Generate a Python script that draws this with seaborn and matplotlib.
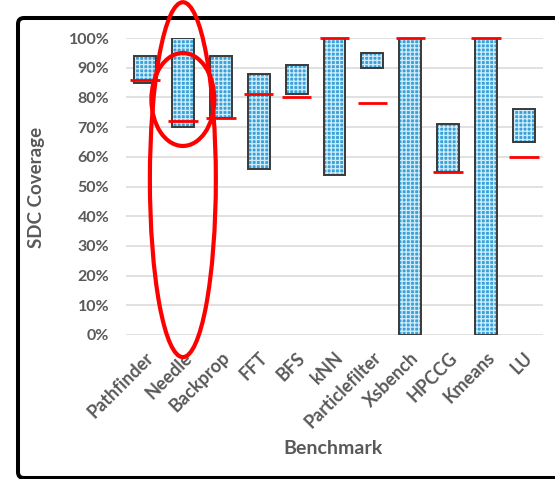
import matplotlib
matplotlib.use("Agg")
import matplotlib.pyplot as plt
from matplotlib.patches import Ellipse, FancyBboxPatch
from matplotlib.ticker import MultipleLocator, PercentFormatter
from matplotlib.transforms import IdentityTransform
import numpy as np
import pandas as pd
import seaborn as sns

# SDC coverage range per benchmark (percent) and the marked reference level
benchmarks = ["Pathfinder", "Needle", "Backprop", "FFT", "BFS", "kNN",
              "Particlefilter", "Xsbench", "HPCCG", "Kmeans", "LU"]
coverage_low = [85, 70, 73, 56, 81, 54, 90, 0, 55, 0, 65]
coverage_high = [94, 100, 94, 88, 91, 100, 95, 100, 71, 100, 76]
coverage_marker = [86, 72, 73, 81, 80, 100, 78, 100, 55, 100, 60]
highlighted = "Needle"

sns.set_theme(style="white")
plt.rcParams["font.family"] = ["Lato", "DejaVu Sans"]
plt.rcParams["hatch.linewidth"] = 0.95

df = pd.DataFrame({"Benchmark": benchmarks, "low": coverage_low,
                   "high": coverage_high, "marker": coverage_marker})
df["span"] = df["high"] - df["low"]

W, H = 555, 479
fig = plt.figure(figsize=(W / 100, H / 100), dpi=100)
ax = fig.add_axes([126 / W, 1 - 335 / H, (543 - 126) / W, (335 - 38) / H])
ax.set_facecolor("none")

bar_w = 0.58
fill_col = "#1fa9f0"
grid_col = "#cdebfb"
# floating bars: gridded blue fill, then a dark outline
sns.barplot(data=df, x="Benchmark", y="span", bottom=df["low"].values,
            color=fill_col, edgecolor=grid_col, linewidth=0, hatch="++++",
            width=bar_w, errorbar=None, ax=ax, zorder=2)
for bar in ax.containers[0]:
    bar.set_edgecolor(grid_col)   # also sets the hatch colour
    bar.set_linewidth(0)
sns.barplot(data=df, x="Benchmark", y="span", bottom=df["low"].values,
            fill=False, color="#3a3a3a", linewidth=1.4,
            width=bar_w, errorbar=None, ax=ax, zorder=3)

# red reference levels
xpos = np.arange(len(benchmarks))
ax.hlines(df["marker"], xpos - 0.39, xpos + 0.39, colors="#ff0000",
          linewidth=2.0, zorder=4, clip_on=False)

# highlight rings around one benchmark
hx = benchmarks.index(highlighted)
ax.add_patch(Ellipse((hx, 52.3), 1.74, 119.5, fill=False, edgecolor="#ff0000",
                     linewidth=3, clip_on=False, zorder=6))
ax.add_patch(Ellipse((hx, 79.3), 1.66, 31.3, fill=False, edgecolor="#ff0000",
                     linewidth=3, clip_on=False, zorder=6))

ax.set_xlim(-0.5, len(benchmarks) - 0.5)
ax.set_ylim(0, 100)
ax.yaxis.set_major_locator(MultipleLocator(10))
ax.yaxis.set_major_formatter(PercentFormatter(100, decimals=0))
ax.grid(axis="y", color="#d9d9d9", linewidth=1.1)
ax.grid(axis="x", visible=False)
ax.set_axisbelow(True)
for s in ax.spines.values():
    s.set_visible(False)

grey = "#595959"
ax.tick_params(axis="both", length=0, labelcolor=grey)
ax.tick_params(axis="y", pad=12, labelsize=11.5)
ax.tick_params(axis="x", pad=10, labelsize=13)
plt.setp(ax.get_xticklabels(), rotation=45, ha="right",
         rotation_mode="anchor", fontweight="bold")
plt.setp(ax.get_yticklabels(), fontweight="bold")

ax.set_xlabel("Benchmark", fontsize=14, fontweight="bold", color=grey)
ax.set_ylabel("SDC Coverage", fontsize=13.5, fontweight="bold", color=grey)
ax.xaxis.set_label_coords(0.496, -0.355)
ax.yaxis.set_label_coords(-0.194, 0.498)

# black rounded frame around the chart
frame = FancyBboxPatch((18, 1), 560, H - 18 - 1,
                       boxstyle="round,pad=0,rounding_size=6",
                       transform=IdentityTransform(), fill=False,
                       edgecolor="black", linewidth=2.9, zorder=-1)
fig.add_artist(frame)

fig.savefig("out.png", dpi=100)
